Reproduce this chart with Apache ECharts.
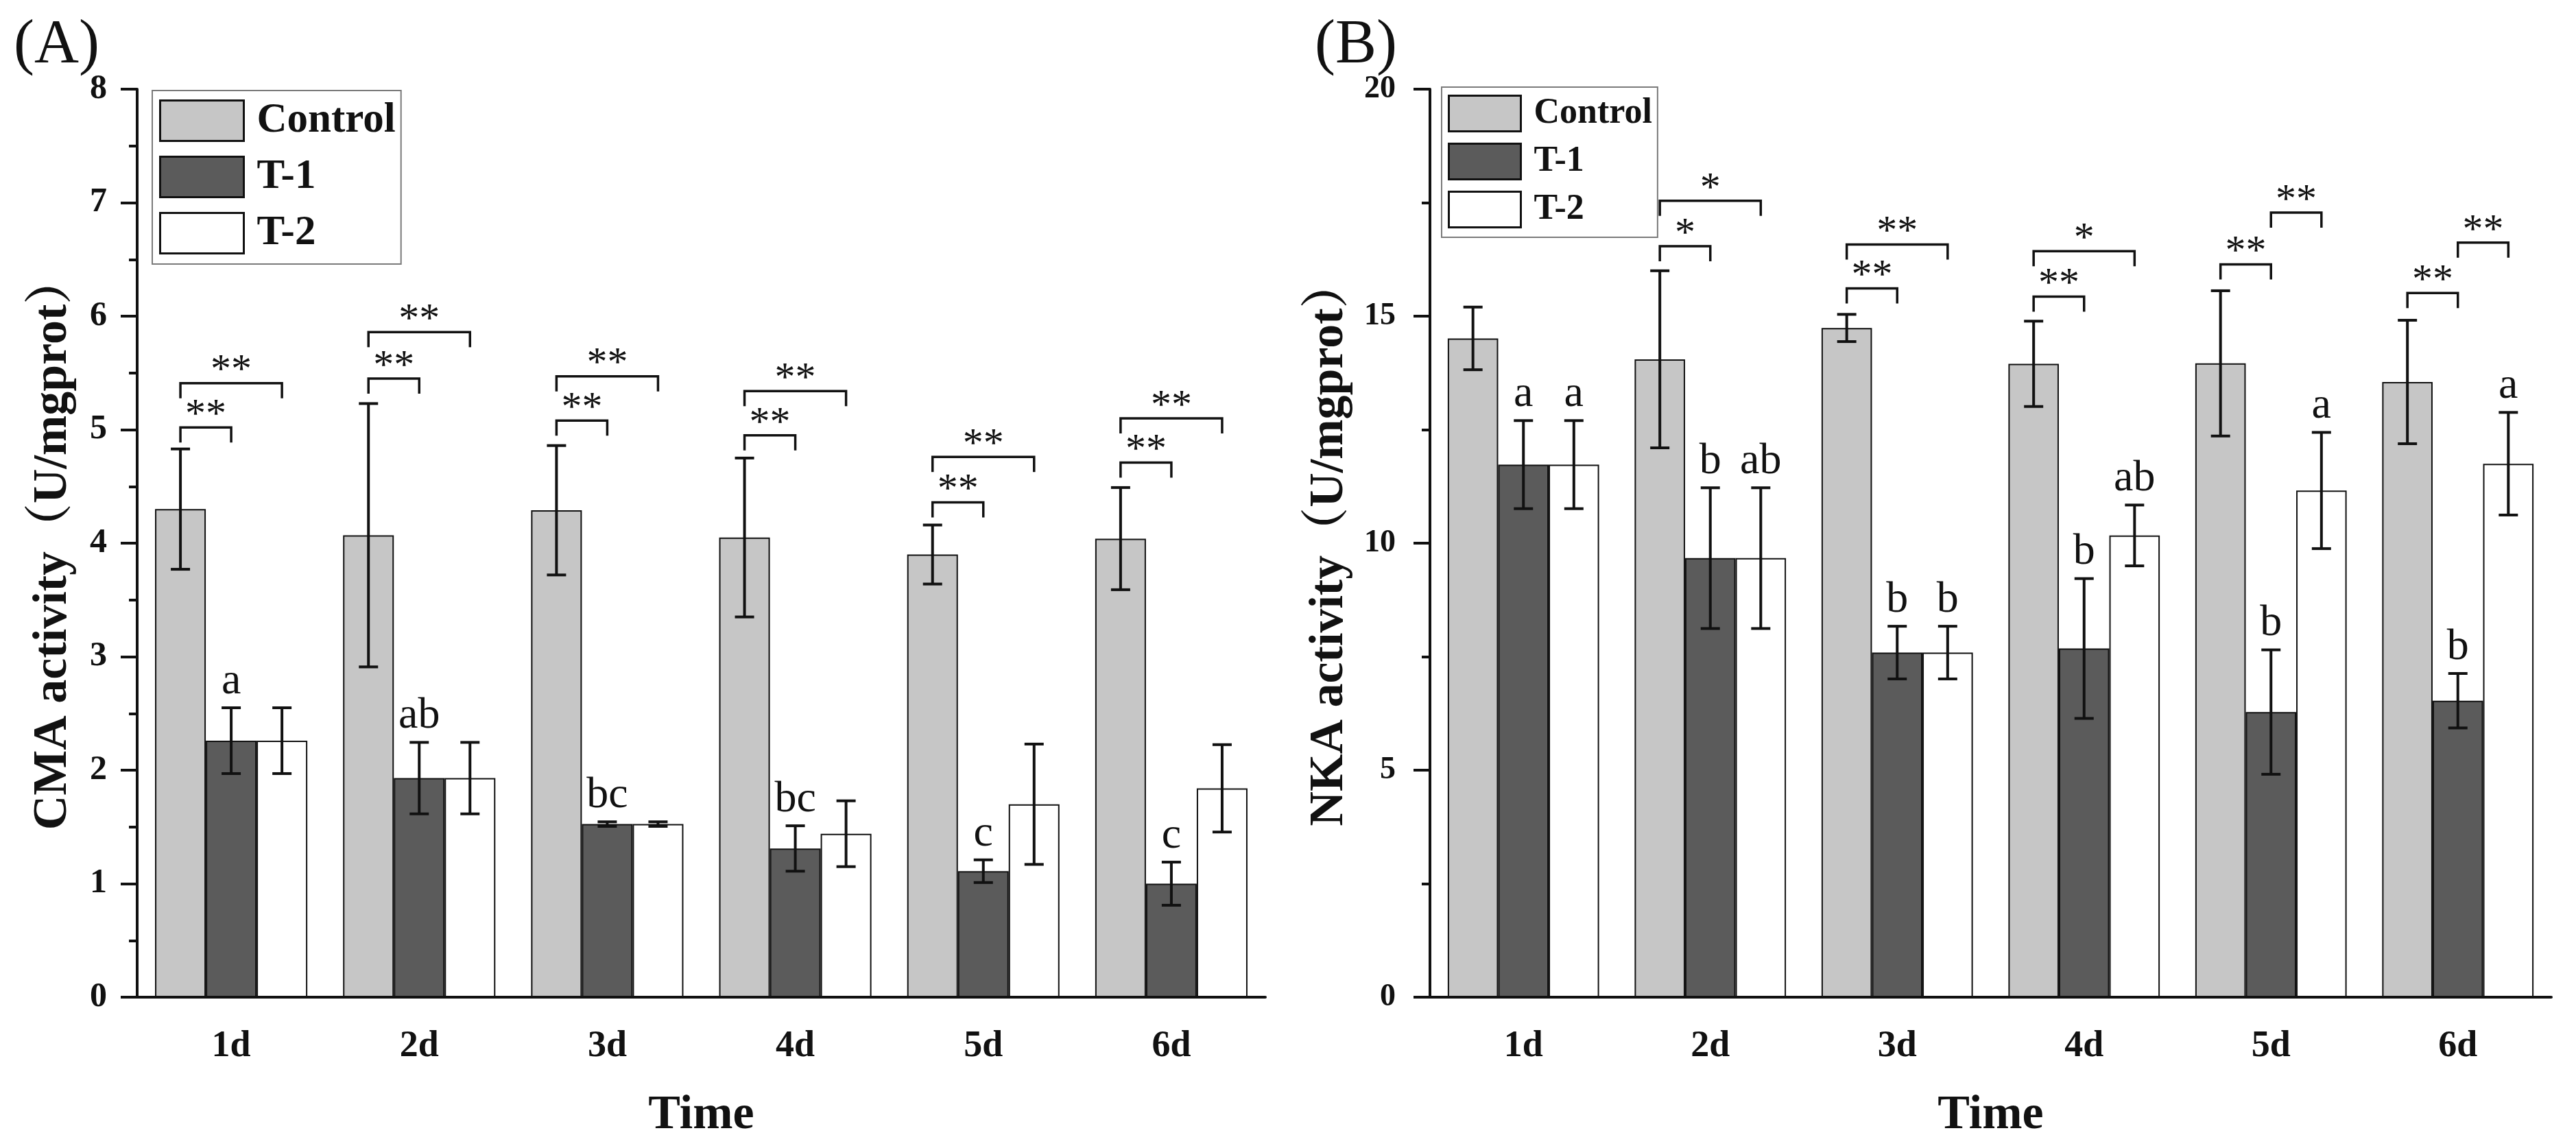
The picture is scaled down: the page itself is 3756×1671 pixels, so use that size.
<!DOCTYPE html>
<html><head><meta charset="utf-8">
<script src="https://cdn.jsdelivr.net/npm/echarts@6/dist/echarts.min.js"></script>
<style>html,body{margin:0;padding:0;background:#fff}#c{width:3756px;height:1671px}</style>
</head><body><div id="c"></div>
<script>
// ---------- data ----------
const categories = ['1d', '2d', '3d', '4d', '5d', '6d'];
const groups = ['Control', 'T-1', 'T-2'];

// Panel A: CMA activity (U/mgprot)
const cmaControl    = [4.30, 4.07, 4.29, 4.05, 3.90, 4.04];
const cmaControlErr = [0.53, 1.16, 0.57, 0.70, 0.26, 0.45];
const cmaT1         = [2.26, 1.93, 1.525, 1.31, 1.11, 1.00];
const cmaT1Err      = [0.29, 0.315, 0.02, 0.20, 0.10, 0.19];
const cmaT2         = [2.26, 1.93, 1.525, 1.44, 1.70, 1.84];
const cmaT2Err      = [0.29, 0.315, 0.02, 0.29, 0.53, 0.385];
const cmaLettersT1  = ['a', 'ab', 'bc', 'bc', 'c', 'c'];
// [category, fromGroup, toGroup, level, label]
const cmaSig = [
  [0, 0, 1, 5.02, '**'], [0, 0, 2, 5.41, '**'],
  [1, 0, 1, 5.45, '**'], [1, 0, 2, 5.86, '**'],
  [2, 0, 1, 5.08, '**'], [2, 0, 2, 5.47, '**'],
  [3, 0, 1, 4.95, '**'], [3, 0, 2, 5.34, '**'],
  [4, 0, 1, 4.36, '**'], [4, 0, 2, 4.76, '**'],
  [5, 0, 1, 4.71, '**'], [5, 0, 2, 5.10, '**']
];
const cmaTicks = {min: 0, max: 8, interval: 1};

// Panel B: NKA activity (U/mgprot)
const nkaControl    = [14.51, 14.05, 14.74, 13.95, 13.96, 13.55];
const nkaControlErr = [0.69, 1.95, 0.30, 0.94, 1.60, 1.36];
const nkaT1         = [11.73, 9.67, 7.59, 7.68, 6.28, 6.53];
const nkaT1Err      = [0.97, 1.55, 0.58, 1.54, 1.37, 0.60];
const nkaT2         = [11.73, 9.67, 7.59, 10.17, 11.16, 11.75];
const nkaT2Err      = [0.97, 1.55, 0.58, 0.67, 1.28, 1.13];
const nkaLettersT1  = ['a', 'b', 'b', 'b', 'b', 'b'];
const nkaLettersT2  = ['a', 'ab', 'b', 'ab', 'a', 'a'];
const nkaSig = [
  [1, 0, 1, 16.54, '*'],  [1, 0, 2, 17.54, '*'],
  [2, 0, 1, 15.61, '**'], [2, 0, 2, 16.58, '**'],
  [3, 0, 1, 15.43, '**'], [3, 0, 2, 16.43, '*'],
  [4, 0, 1, 16.14, '**'], [4, 1, 2, 17.28, '**'],
  [5, 0, 1, 15.51, '**'], [5, 1, 2, 16.62, '**']
];
const nkaTicks = {min: 0, max: 20, interval: 5};

// ---------- style ----------
const SERIF = "'Liberation Serif', 'Times New Roman', 'Noto Serif CJK SC', 'Noto Sans CJK SC', serif";
const INK = '#111';
const fills = ['#c6c6c6', '#5b5b5b', '#ffffff'];
const BAR_FRAC = 0.27;

function off(api, g) { return (g - 1) * api.size([1, 0])[0] * BAR_FRAC; }

function errData(means, errs) {
  const out = [];
  means.forEach((m, g) => m.forEach((v, c) => out.push([c, g, v, errs[g][c]])));
  return out;
}
function errRender(params, api) {
  const c = api.value(0), g = api.value(1), m = api.value(2), e = api.value(3);
  const t = api.coord([c, m + e]), b = api.coord([c, m - e]);
  const x = t[0] + off(api, g), cap = 14;
  const st = {stroke: INK, lineWidth: 4};
  return {type: 'group', children: [
    {type: 'line', shape: {x1: x, y1: t[1], x2: x, y2: b[1]}, style: st},
    {type: 'line', shape: {x1: x - cap, y1: t[1], x2: x + cap, y2: t[1]}, style: st},
    {type: 'line', shape: {x1: x - cap, y1: b[1], x2: x + cap, y2: b[1]}, style: st}
  ]};
}
function sigRender(sig) {
  return function (params, api) {
    const row = sig[params.dataIndex];
    const c = row[0], g1 = row[1], g2 = row[2], lv = row[3];
    const p = api.coord([c, lv]);
    const x1 = p[0] + off(api, g1), x2 = p[0] + off(api, g2), y = p[1], leg = 22;
    return {type: 'group', children: [
      {type: 'polyline', shape: {points: [[x1, y + leg], [x1, y], [x2, y], [x2, y + leg]]},
        style: {stroke: INK, lineWidth: 3.5, fill: null}},
      {type: 'text', x: (x1 + x2) / 2, y: y - 17,
        style: {text: row[4], font: '60px ' + SERIF, fill: INK, align: 'center', verticalAlign: 'middle'}}
    ]};
  };
}
function letterRender(letters) {
  return function (params, api) {
    const c = api.value(0), g = api.value(1), top = api.value(2);
    const p = api.coord([c, top]);
    return {type: 'text', x: p[0] + off(api, g), y: p[1] - 38,
      style: {text: letters[params.dataIndex], font: '64px ' + SERIF, fill: INK, align: 'center', verticalAlign: 'middle'}};
  };
}

function xAxis(gi) {
  return {
    gridIndex: gi, type: 'category', data: categories,
    axisLine: {lineStyle: {color: INK, width: 4}},
    axisTick: {alignWithLabel: true, length: 27, lineStyle: {color: INK, width: 4}},
    axisLabel: {fontFamily: SERIF, fontWeight: 'bold', fontSize: 54, color: INK, margin: 45},
    splitLine: {show: false},
    name: 'Time', nameLocation: 'middle', nameGap: 138,
    nameTextStyle: {fontFamily: SERIF, fontWeight: 'bold', fontSize: 70, color: INK}
  };
}
function yAxis(gi, ticks, name, labelSize, labelMargin, nameGap) {
  return {
    gridIndex: gi, type: 'value', min: ticks.min, max: ticks.max, interval: ticks.interval,
    axisLine: {show: true, lineStyle: {color: INK, width: 4}},
    axisTick: {show: true, length: 24, lineStyle: {color: INK, width: 4}},
    minorTick: {show: true, splitNumber: 2, length: 12, lineStyle: {color: INK, width: 4}},
    splitLine: {show: false},
    axisLabel: {fontFamily: SERIF, fontWeight: 'bold', fontSize: labelSize, color: INK, margin: labelMargin},
    name: name, nameLocation: 'middle', nameGap: nameGap,
    nameTextStyle: {fontFamily: SERIF, fontWeight: 'bold', fontSize: 70, color: INK}
  };
}
function bars(gi, means) {
  return means.map((m, g) => ({
    type: 'bar', name: groups[g], xAxisIndex: gi, yAxisIndex: gi, data: m,
    barWidth: (BAR_FRAC * 100) + '%', barGap: '0%',
    itemStyle: {color: fills[g], borderColor: INK, borderWidth: 2}, z: 2
  }));
}
function legend(left, top, pad, iw, ih, gap, fs) {
  return {
    orient: 'vertical', left: left, top: top, padding: pad, data: groups,
    icon: 'rect', itemWidth: iw, itemHeight: ih, itemGap: gap, selectedMode: false,
    borderColor: '#7a7a7a', borderWidth: 2, backgroundColor: '#fff',
    itemStyle: {borderColor: INK, borderWidth: 3},
    textStyle: {fontFamily: SERIF, fontWeight: 'bold', fontSize: fs, color: INK, lineHeight: ih, padding: [0, 0, 0, 14]}
  };
}

const cmaMeans = [cmaControl, cmaT1, cmaT2], cmaErrs = [cmaControlErr, cmaT1Err, cmaT2Err];
const nkaMeans = [nkaControl, nkaT1, nkaT2], nkaErrs = [nkaControlErr, nkaT1Err, nkaT2Err];
const nkaLetters = nkaLettersT1.concat(nkaLettersT2);

const option = {
  animation: false,
  backgroundColor: '#fff',
  grid: [
    {left: 200, right: 1911, top: 130, bottom: 217, containLabel: false, outerBoundsMode: 'none'},
    {left: 2085, right: 36, top: 130, bottom: 217, containLabel: false, outerBoundsMode: 'none'}
  ],
  xAxis: [xAxis(0), xAxis(1)],
  yAxis: [
    yAxis(0, cmaTicks, 'CMA activity（U/mgprot）', 50, 44, 87),
    yAxis(1, nkaTicks, 'NKA activity（U/mgprot）', 46, 50, 111)
  ],
  legend: [
    legend(222, 132, [13, 8, 14, 10], 122, 59, 20, 61),
    legend(2102, 127, [11, 8, 13, 9], 105, 52, 15, 52)
  ],
  graphic: [
    {type: 'text', left: 20, top: 22, style: {text: '(A)', font: '90px ' + SERIF, fill: INK}},
    {type: 'text', left: 1917, top: 22, style: {text: '(B)', font: '90px ' + SERIF, fill: INK}}
  ],
  series: [].concat(
    bars(0, cmaMeans),
    bars(1, nkaMeans),
    [
      {type: 'custom', xAxisIndex: 0, yAxisIndex: 0, data: errData(cmaMeans, cmaErrs),
        encode: {x: 0, y: 2}, renderItem: errRender, z: 5, silent: true},
      {type: 'custom', xAxisIndex: 1, yAxisIndex: 1, data: errData(nkaMeans, nkaErrs),
        encode: {x: 0, y: 2}, renderItem: errRender, z: 5, silent: true},
      {type: 'custom', xAxisIndex: 0, yAxisIndex: 0, data: cmaSig.map(r => [r[0], r[3]]),
        encode: {x: 0, y: 1}, renderItem: sigRender(cmaSig), z: 5, silent: true},
      {type: 'custom', xAxisIndex: 1, yAxisIndex: 1, data: nkaSig.map(r => [r[0], r[3]]),
        encode: {x: 0, y: 1}, renderItem: sigRender(nkaSig), z: 5, silent: true},
      {type: 'custom', xAxisIndex: 0, yAxisIndex: 0,
        data: cmaT1.map((v, c) => [c, 1, v + cmaT1Err[c]]),
        encode: {x: 0, y: 2}, renderItem: letterRender(cmaLettersT1), z: 5, silent: true},
      {type: 'custom', xAxisIndex: 1, yAxisIndex: 1,
        data: nkaT1.map((v, c) => [c, 1, v + nkaT1Err[c]]).concat(nkaT2.map((v, c) => [c, 2, v + nkaT2Err[c]])),
        encode: {x: 0, y: 2}, renderItem: letterRender(nkaLetters), z: 5, silent: true}
    ]
  )
};

const chart = echarts.init(document.getElementById('c'), null, {renderer: 'canvas'});
chart.setOption(option);
</script>
</body></html>
